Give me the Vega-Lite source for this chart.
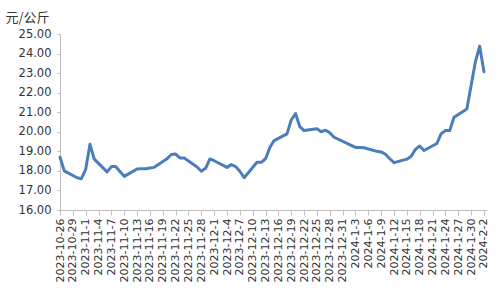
{
  "$schema": "https://vega.github.io/schema/vega-lite/v6.json",
  "width": 427,
  "height": 176,
  "autosize": "none",
  "padding": {"left": 60, "top": 34, "right": 13, "bottom": 90},
  "background": "white",
  "config": {"view": {"stroke": null}, "font": "DejaVu Sans"},
  "data": {"values": [
    {"date": "2023-10-26", "price": 18.70},
    {"date": "2023-10-27", "price": 18.00},
    {"date": "2023-10-30", "price": 17.65},
    {"date": "2023-10-31", "price": 17.60},
    {"date": "2023-11-01", "price": 18.08},
    {"date": "2023-11-02", "price": 19.36},
    {"date": "2023-11-03", "price": 18.60},
    {"date": "2023-11-06", "price": 17.95},
    {"date": "2023-11-07", "price": 18.22},
    {"date": "2023-11-08", "price": 18.22},
    {"date": "2023-11-09", "price": 17.97},
    {"date": "2023-11-10", "price": 17.72},
    {"date": "2023-11-13", "price": 18.10},
    {"date": "2023-11-14", "price": 18.11},
    {"date": "2023-11-15", "price": 18.11},
    {"date": "2023-11-16", "price": 18.15},
    {"date": "2023-11-17", "price": 18.18},
    {"date": "2023-11-20", "price": 18.62},
    {"date": "2023-11-21", "price": 18.84},
    {"date": "2023-11-22", "price": 18.86},
    {"date": "2023-11-23", "price": 18.66},
    {"date": "2023-11-24", "price": 18.66},
    {"date": "2023-11-27", "price": 18.20},
    {"date": "2023-11-28", "price": 17.98},
    {"date": "2023-11-29", "price": 18.13},
    {"date": "2023-11-30", "price": 18.61},
    {"date": "2023-12-01", "price": 18.52},
    {"date": "2023-12-04", "price": 18.18},
    {"date": "2023-12-05", "price": 18.32},
    {"date": "2023-12-06", "price": 18.22},
    {"date": "2023-12-07", "price": 17.98},
    {"date": "2023-12-08", "price": 17.65},
    {"date": "2023-12-11", "price": 18.44},
    {"date": "2023-12-12", "price": 18.44},
    {"date": "2023-12-13", "price": 18.62},
    {"date": "2023-12-14", "price": 19.20},
    {"date": "2023-12-15", "price": 19.55},
    {"date": "2023-12-18", "price": 19.89},
    {"date": "2023-12-19", "price": 20.60},
    {"date": "2023-12-20", "price": 20.93},
    {"date": "2023-12-21", "price": 20.26},
    {"date": "2023-12-22", "price": 20.06},
    {"date": "2023-12-25", "price": 20.15},
    {"date": "2023-12-26", "price": 20.00},
    {"date": "2023-12-27", "price": 20.08},
    {"date": "2023-12-28", "price": 19.95},
    {"date": "2023-12-29", "price": 19.72},
    {"date": "2024-01-02", "price": 19.30},
    {"date": "2024-01-03", "price": 19.20},
    {"date": "2024-01-04", "price": 19.20},
    {"date": "2024-01-05", "price": 19.18},
    {"date": "2024-01-08", "price": 19.00},
    {"date": "2024-01-09", "price": 18.97},
    {"date": "2024-01-10", "price": 18.85},
    {"date": "2024-01-11", "price": 18.62},
    {"date": "2024-01-12", "price": 18.42},
    {"date": "2024-01-15", "price": 18.60},
    {"date": "2024-01-16", "price": 18.75},
    {"date": "2024-01-17", "price": 19.10},
    {"date": "2024-01-18", "price": 19.27},
    {"date": "2024-01-19", "price": 19.04},
    {"date": "2024-01-22", "price": 19.40},
    {"date": "2024-01-23", "price": 19.90},
    {"date": "2024-01-24", "price": 20.06},
    {"date": "2024-01-25", "price": 20.06},
    {"date": "2024-01-26", "price": 20.74},
    {"date": "2024-01-29", "price": 21.16},
    {"date": "2024-01-30", "price": 22.37},
    {"date": "2024-01-31", "price": 23.58},
    {"date": "2024-02-01", "price": 24.38},
    {"date": "2024-02-02", "price": 23.07}
  ]},
  "mark": {"type": "line", "color": "#4a7ebb", "strokeWidth": 3, "strokeJoin": "round", "strokeCap": "round"},
  "encoding": {
    "x": {
      "field": "date",
      "type": "temporal",
      "scale": {
        "type": "utc",
        "domain": [
          {"year": 2023, "month": 10, "date": 26, "utc": true},
          {"year": 2024, "month": 2, "date": 2, "hours": 17, "utc": true}
        ]
      },
      "axis": {
        "title": null,
        "labelExpr": "utcFormat(datum.value, '%Y-%-m-%-d')",
        "labelAngle": 270,
        "labelFont": "DejaVu Sans",
        "labelFontSize": 11,
        "labelColor": "#333333",
        "labelPadding": 3,
        "labelOverlap": false,
        "labelFlush": false,
        "domainColor": "#bfbfbf",
        "tickColor": "#bfbfbf",
        "tickSize": 5,
        "grid": false,
        "values": [
          {"year": 2023, "month": 10, "date": 26, "utc": true},
          {"year": 2023, "month": 10, "date": 29, "utc": true},
          {"year": 2023, "month": 11, "date": 1, "utc": true},
          {"year": 2023, "month": 11, "date": 4, "utc": true},
          {"year": 2023, "month": 11, "date": 7, "utc": true},
          {"year": 2023, "month": 11, "date": 10, "utc": true},
          {"year": 2023, "month": 11, "date": 13, "utc": true},
          {"year": 2023, "month": 11, "date": 16, "utc": true},
          {"year": 2023, "month": 11, "date": 19, "utc": true},
          {"year": 2023, "month": 11, "date": 22, "utc": true},
          {"year": 2023, "month": 11, "date": 25, "utc": true},
          {"year": 2023, "month": 11, "date": 28, "utc": true},
          {"year": 2023, "month": 12, "date": 1, "utc": true},
          {"year": 2023, "month": 12, "date": 4, "utc": true},
          {"year": 2023, "month": 12, "date": 7, "utc": true},
          {"year": 2023, "month": 12, "date": 10, "utc": true},
          {"year": 2023, "month": 12, "date": 13, "utc": true},
          {"year": 2023, "month": 12, "date": 16, "utc": true},
          {"year": 2023, "month": 12, "date": 19, "utc": true},
          {"year": 2023, "month": 12, "date": 22, "utc": true},
          {"year": 2023, "month": 12, "date": 25, "utc": true},
          {"year": 2023, "month": 12, "date": 28, "utc": true},
          {"year": 2023, "month": 12, "date": 31, "utc": true},
          {"year": 2024, "month": 1, "date": 3, "utc": true},
          {"year": 2024, "month": 1, "date": 6, "utc": true},
          {"year": 2024, "month": 1, "date": 9, "utc": true},
          {"year": 2024, "month": 1, "date": 12, "utc": true},
          {"year": 2024, "month": 1, "date": 15, "utc": true},
          {"year": 2024, "month": 1, "date": 18, "utc": true},
          {"year": 2024, "month": 1, "date": 21, "utc": true},
          {"year": 2024, "month": 1, "date": 24, "utc": true},
          {"year": 2024, "month": 1, "date": 27, "utc": true},
          {"year": 2024, "month": 1, "date": 30, "utc": true},
          {"year": 2024, "month": 2, "date": 2, "utc": true}
        ]
      }
    },
    "y": {
      "field": "price",
      "type": "quantitative",
      "scale": {"domain": [16, 25], "nice": false, "zero": false},
      "axis": {
        "values": [16, 17, 18, 19, 20, 21, 22, 23, 24, 25],
        "format": ".2f",
        "grid": false,
        "labelFont": "DejaVu Sans",
        "labelFontSize": 11.5,
        "labelColor": "#333333",
        "labelPadding": 6,
        "tickSize": 3,
        "domainColor": "#bfbfbf",
        "tickColor": "#bfbfbf",
        "title": "元/公斤",
        "titleFont": "Noto Sans CJK SC",
        "titleFontSize": 13,
        "titleFontWeight": "normal",
        "titleColor": "#333333",
        "titleAngle": 0,
        "titleAlign": "left",
        "titleBaseline": "alphabetic",
        "titleX": -55,
        "titleY": -13
      }
    }
  }
}
